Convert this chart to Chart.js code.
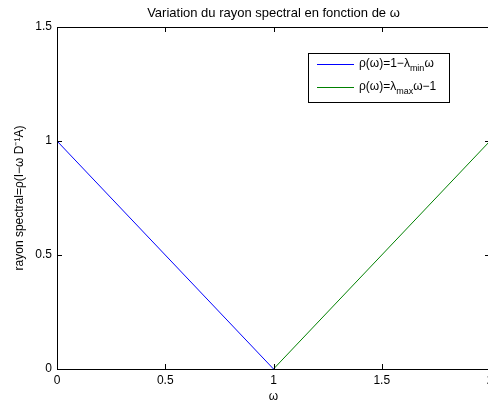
<!DOCTYPE html>
<html>
<head>
<meta charset="utf-8">
<script src="https://cdn.jsdelivr.net/npm/chart.js@4/dist/chart.umd.min.js"></script>
<style>
  body { margin: 0; overflow: hidden; background: #fff; }
  canvas { display: block; }
</style>
</head>
<body>
<canvas id="rho-chart" width="520" height="404"></canvas>
<script>
// data
const omegaMin = [0, 1];
const rhoMin = [1, 0];
const omegaMax = [1, 2];
const rhoMax = [0, 1];
const xTicks = [0, 0.5, 1, 1.5, 2];
const yTicks = [0, 0.5, 1, 1.5];
const titleText = 'Variation du rayon spectral en fonction de ω';
const xLabel = 'ω';
const yLabel = 'rayon spectral=ρ(I−ω D⁻¹A)';

const FONT = 'Liberation Sans, Arial, Helvetica, sans-serif';

// title centred over the axes box (matlab style)
const titlePlugin = {
    id: 'boxTitle',
    afterDraw(chart) {
        const { ctx, chartArea: a } = chart;
        ctx.save();
        ctx.fillStyle = '#000';
        ctx.font = '13px ' + FONT;
        ctx.textAlign = 'center';
        ctx.textBaseline = 'middle';
        ctx.fillText(titleText, (a.left + a.right) / 2, a.top - 14);
        ctx.restore();
    }
};

// box + inward ticks
const boxPlugin = {
    id: 'box',
    afterDraw(chart) {
        const { ctx, chartArea: a, scales } = chart;
        ctx.save();
        ctx.strokeStyle = '#000';
        ctx.lineWidth = 1;
        ctx.strokeRect(a.left + 0.5, a.top + 0.5, a.right - a.left, a.bottom - a.top);
        ctx.beginPath();
        xTicks.forEach(v => {
            const x = Math.round(scales.x.getPixelForValue(v)) + 0.5;
            ctx.moveTo(x, a.bottom); ctx.lineTo(x, a.bottom - 5);
            ctx.moveTo(x, a.top); ctx.lineTo(x, a.top + 5);
        });
        yTicks.forEach(v => {
            const y = Math.round(scales.y.getPixelForValue(v)) + 0.5;
            ctx.moveTo(a.left, y); ctx.lineTo(a.left + 5, y);
            ctx.moveTo(a.right, y); ctx.lineTo(a.right - 5, y);
        });
        ctx.stroke();
        ctx.restore();
    }
};

// legend with subscripts
const legendPlugin = {
    id: 'subLegend',
    afterDraw(chart) {
        const { ctx, chartArea: a } = chart;
        const bx = a.right - 182, by = a.top + 26, bw = 141, bh = 49;
        ctx.save();
        ctx.fillStyle = '#fff';
        ctx.fillRect(bx, by, bw, bh);
        ctx.strokeStyle = '#000';
        ctx.lineWidth = 1;
        ctx.strokeRect(bx + 0.5, by + 0.5, bw, bh);

        const rows = [
            { color: chart.data.datasets[0].borderColor, y: by + 11, parts: ['ρ(ω)=1−λ', 'min', 'ω'] },
            { color: chart.data.datasets[1].borderColor, y: by + 34, parts: ['ρ(ω)=λ', 'max', 'ω−1'] }
        ];
        rows.forEach(r => {
            ctx.strokeStyle = r.color;
            ctx.beginPath();
            ctx.moveTo(bx + 9, r.y + 0.5);
            ctx.lineTo(bx + 46, r.y + 0.5);
            ctx.stroke();
            ctx.fillStyle = '#000';
            ctx.textBaseline = 'middle';
            let x = bx + 51;
            ctx.font = '12px ' + FONT;
            ctx.fillText(r.parts[0], x, r.y);
            x += ctx.measureText(r.parts[0]).width;
            ctx.font = '9px ' + FONT;
            ctx.fillText(r.parts[1], x, r.y + 5);
            x += ctx.measureText(r.parts[1]).width;
            ctx.font = '12px ' + FONT;
            ctx.fillText(r.parts[2], x, r.y);
        });
        ctx.restore();
    }
};

new Chart(document.getElementById('rho-chart').getContext('2d'), {
    type: 'scatter',
    data: {
        datasets: [
            {
                label: 'min',
                data: omegaMin.map((w, i) => ({ x: w, y: rhoMin[i] })),
                showLine: true,
                borderColor: '#0000ff',
                borderWidth: 1,
                pointRadius: 0,
                clip: false
            },
            {
                label: 'max',
                data: omegaMax.map((w, i) => ({ x: w, y: rhoMax[i] })),
                showLine: true,
                borderColor: '#008000',
                borderWidth: 1,
                pointRadius: 0,
                clip: false
            }
        ]
    },
    options: {
        responsive: false,
        animation: false,
        devicePixelRatio: 1,
        layout: { padding: { left: 0, right: 30, top: 27, bottom: 0 } },
        plugins: {
            legend: { display: false },
            tooltip: { enabled: false },
            title: { display: false }
        },
        scales: {
            x: {
                type: 'linear',
                min: 0,
                max: 2,
                afterBuildTicks: s => { s.ticks = xTicks.map(v => ({ value: v })); },
                afterFit: s => { s.height = 35; },
                grid: { display: false, drawTicks: false },
                border: { display: false },
                ticks: { color: '#000', padding: 4, maxRotation: 0, callback: v => String(v), font: { family: FONT, size: 12 } },
                title: { display: true, text: xLabel, color: '#000', padding: 0, font: { family: FONT, size: 12 } }
            },
            y: {
                type: 'linear',
                min: 0,
                max: 1.5,
                afterBuildTicks: s => { s.ticks = yTicks.map(v => ({ value: v })); },
                afterFit: s => { s.width = 57; },
                grid: { display: false, drawTicks: false },
                border: { display: false },
                ticks: { color: '#000', padding: 5, callback: v => String(v), font: { family: FONT, size: 12 } },
                title: { display: true, text: yLabel, color: '#000', padding: { top: 12, bottom: 0 }, font: { family: FONT, size: 12 } }
            }
        }
    },
    plugins: [boxPlugin, legendPlugin, titlePlugin]
});
</script>
</body>
</html>
